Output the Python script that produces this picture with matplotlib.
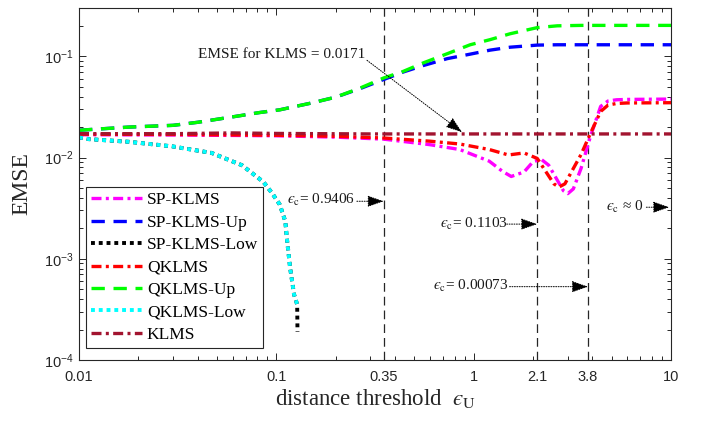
#!/usr/bin/env python3
"""EMSE versus distance threshold for KLMS / QKLMS / SP-KLMS with bounds."""

import matplotlib
matplotlib.use("Agg")
import matplotlib.pyplot as plt
from matplotlib.ticker import FixedLocator, LogLocator, NullFormatter

plt.rcParams["mathtext.fontset"] = "stix"

SERIF = "Liberation Serif"
SANS = "Liberation Sans"
AXCOL = "#262626"

# ---- data ----
sp_x = [0.01, 0.03, 0.1, 0.2, 0.35, 0.6, 0.85, 1.2, 1.4, 1.55, 1.8, 2.0, 2.2,
        2.4, 2.65, 2.85, 3.0, 3.2, 3.5, 3.9, 4.4, 4.8, 5.3, 6.0, 10.0]
sp_y = [0.0168, 0.0167, 0.0164, 0.0159, 0.0152, 0.0134, 0.0120, 0.0092, 0.0073,
        0.0065, 0.0072, 0.0091, 0.0096, 0.0084, 0.0060, 0.0047, 0.0044, 0.0049,
        0.0078, 0.0160, 0.0320, 0.0362, 0.0372, 0.0375, 0.0378]

q_x = [0.01, 0.03, 0.1, 0.2, 0.35, 0.6, 0.85, 1.2, 1.5, 1.8, 2.1, 2.35, 2.55,
       2.7, 2.9, 3.2, 3.5, 3.9, 4.4, 4.8, 5.3, 6.0, 10.0]
q_y = [0.0170, 0.0169, 0.0166, 0.0162, 0.0156, 0.0145, 0.0136, 0.0120, 0.0106,
       0.0111, 0.0098, 0.0070, 0.0055, 0.0051, 0.0055, 0.0078, 0.0107, 0.0172,
       0.0285, 0.0330, 0.0342, 0.0346, 0.0348]

up_x = [0.01, 0.018, 0.03, 0.04, 0.063, 0.082, 0.104, 0.15, 0.2, 0.266, 0.35,
        0.44, 0.555, 0.734, 0.96, 1.21, 1.53, 2.1, 2.65, 3.5, 5.0, 10.0]
sp_up_y = [0.0186, 0.0200, 0.0208, 0.0223, 0.0256, 0.0278, 0.0296, 0.0345,
           0.0395, 0.0480, 0.0590, 0.0700, 0.0810, 0.0948, 0.105, 0.115, 0.123,
           0.129, 0.130, 0.130, 0.130, 0.130]
q_up_y = [0.0186, 0.0200, 0.0208, 0.0223, 0.0256, 0.0278, 0.0296, 0.0345,
          0.0395, 0.0486, 0.0611, 0.0710, 0.0860, 0.106, 0.130, 0.146, 0.167,
          0.192, 0.200, 0.202, 0.202, 0.202]

low_x = [0.01, 0.0112, 0.0179, 0.0296, 0.047, 0.0604, 0.0669, 0.086, 0.095,
         0.104, 0.111, 0.1135, 0.1175, 0.123, 0.1275]
q_low_y = [0.0158, 0.0152, 0.0143, 0.0129, 0.0111, 0.0091, 0.0084, 0.00574,
           0.00447, 0.00344, 0.00235, 0.00149, 0.00081, 0.000444, 0.000354]
sp_low_x = low_x + [0.128]
sp_low_y = q_low_y + [0.00019]

klms_x = [0.01, 0.03, 0.06, 0.1, 0.3, 1.0, 10.0]
klms_y = [0.0172, 0.0172, 0.0175, 0.0173, 0.0171, 0.0171, 0.0171]

vlines = [0.35, 2.1, 3.8]
xticks = [0.01, 0.1, 0.35, 1, 2.1, 3.8, 10]
xticklabels = ["0.01", "0.1", "0.35", "1", "2.1", "3.8", "10"]
yticks = [1e-4, 1e-3, 1e-2, 1e-1]
yticklabels = [r"$\mathregular{10^{-4}}$", r"$\mathregular{10^{-3}}$",
               r"$\mathregular{10^{-2}}$", r"$\mathregular{10^{-1}}$"]

EPS = "$\u03f5_{\\mathrm{c}}$"
# annotations: text, text anchor (left, centre), arrow start, arrow tip
notes = [
    ("EMSE for KLMS = 0.0171", (0.040, 0.1046), (0.288, 0.0913), (0.873, 0.0178)),
    (EPS + "= 0.9406", (0.1135, 0.0038), (0.256, 0.0037), (0.35, 0.0037)),
    (EPS + "= 0.1103", (0.677, 0.0022), (1.47, 0.0022), (2.1, 0.0022)),
    (EPS + "= 0.00073", (0.624, 0.00054), (1.52, 0.00053), (3.8, 0.00053)),
    (EPS + " \u2248 0", (4.70, 0.00325), (7.5, 0.00323), (9.8, 0.00323)),
]

lw = 2.4
dashdot = (0, (3.0, 1.3, 0.9, 1.3))
dashed = (0, (4.0, 2.6))
dotted = (0, (1.0, 1.0))

fig = plt.figure(figsize=(7.1, 4.24), dpi=100)
ax = fig.add_axes([79 / 710, 64 / 424, 592 / 710, 352 / 424])

series = [
    (sp_x, sp_y, "#FF00FF", dashdot, lw, "SP-KLMS"),
    (up_x, sp_up_y, "#0000FF", dashed, lw, "SP-KLMS-Up"),
    (sp_low_x, sp_low_y, "#000000", dotted, 2.8, "SP-KLMS-Low"),
    (q_x, q_y, "#FF0000", dashdot, lw, "QKLMS"),
    (up_x, q_up_y, "#00FF00", dashed, lw, "QKLMS-Up"),
    (low_x, q_low_y, "#00FFFF", dotted, 2.8, "QKLMS-Low"),
    (klms_x, klms_y, "#A2142F", dashdot, lw, "KLMS"),
]
for xs, ys, col, ls, w, lab in series:
    ax.plot(xs, ys, color=col, linestyle=ls, lw=w, label=lab,
            dash_capstyle="butt", solid_capstyle="butt")

for v in vlines:
    ax.axvline(v, color=AXCOL, lw=0.9, linestyle=(0, (7, 4)), zorder=1)

for txt, tpos, start, tip in notes:
    ax.text(tpos[0], tpos[1], txt, fontsize=11, family=SERIF,
            ha="left", va="center", color="#1a1a1a")
    ax.annotate("", xy=tip, xytext=start,
                arrowprops=dict(arrowstyle="-|>,head_length=1.0,head_width=0.35",
                                linestyle=(0, (1, 1.5)), lw=0.7, color="black",
                                shrinkA=0, shrinkB=0, mutation_scale=10))

ax.set_xscale("log")
ax.set_yscale("log")
ax.set_xlim(0.01, 10)
ax.set_ylim(1e-4, 0.3)

ax.xaxis.set_major_locator(FixedLocator(xticks))
ax.set_xticklabels(xticklabels)
ax.xaxis.set_minor_locator(LogLocator(base=10, subs=range(2, 10), numticks=20))
ax.xaxis.set_minor_formatter(NullFormatter())
ax.yaxis.set_major_locator(FixedLocator(yticks))
ax.set_yticklabels(yticklabels)
ax.yaxis.set_minor_locator(LogLocator(base=10, subs=range(2, 10), numticks=20))
ax.yaxis.set_minor_formatter(NullFormatter())

ax.tick_params(which="both", direction="in", top=True, right=True,
               colors=AXCOL, width=0.7)
ax.tick_params(which="major", length=5, labelsize=10.5)
ax.tick_params(which="minor", length=3)
ax.tick_params(axis="x", which="major", pad=7)
ax.tick_params(axis="y", which="major", pad=4)
for lab in ax.get_xticklabels() + ax.get_yticklabels():
    lab.set_family(SANS)
    lab.set_color(AXCOL)
for sp in ax.spines.values():
    sp.set_color(AXCOL)
    sp.set_linewidth(0.8)

ax.set_xlabel("distance threshold  $\u03f5_{\\mathrm{U}}$", fontsize=16.5,
              family=SERIF, color=AXCOL, labelpad=2)
ax.set_ylabel("EMSE", fontsize=17, family=SERIF, color=AXCOL, labelpad=8)

leg = ax.legend(loc="lower left", bbox_to_anchor=(0.012, 0.034), borderaxespad=0,
                prop={"family": SERIF, "size": 12.5}, handlelength=2.9,
                handletextpad=0.3, labelspacing=0.36, borderpad=0.3,
                fancybox=False, framealpha=1, edgecolor=AXCOL)
leg.get_frame().set_linewidth(0.8)

fig.savefig("out.png", dpi=100)
